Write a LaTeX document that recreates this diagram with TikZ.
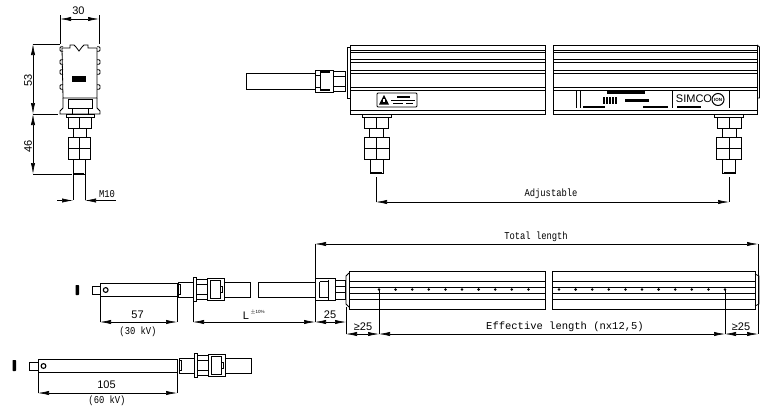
\documentclass[tikz,border=0pt]{standalone}
\usepackage{fontspec}
\setmainfont{Liberation Mono}
\newfontfamily\narrowfont[FakeStretch=.84]{Liberation Mono}
\newfontfamily\labelfont{Liberation Sans}
\usetikzlibrary{arrows.meta}
\tikzset{
  part/.style={draw=black,line width=.8pt},
  rib/.style={draw=black,line width=1pt},
  thin part/.style={draw=black,line width=.55pt},
  dim/.style={draw=black,line width=.6pt,{Latex[length=11pt,width=4.2pt]}-{Latex[length=11pt,width=4.2pt]}},
  dimright/.style={draw=black,line width=.6pt,-{Latex[length=11pt,width=4.2pt]}},
  dimleft/.style={draw=black,line width=.6pt,{Latex[length=11pt,width=4.2pt]}-},
  ext/.style={draw=black,line width=.6pt},
  lab/.style={font=\narrowfont\fontsize{10.5}{12}\selectfont,inner sep=0pt},
  widelab/.style={font=\fontsize{10.5}{12}\selectfont,inner sep=0pt},
  numlab/.style={font=\labelfont\fontsize{11}{12}\selectfont,inner sep=0pt},
  blob/.style={fill=black,draw=none},
  % threaded foot under the bar, origin at top centre
  foot/.pic={
    \draw[part] (-14.5,0) rectangle (14.5,3);
    \draw[part] (-12,3) rectangle (12,14);
    \draw[part] (-7,14) rectangle (7,23);
    \draw[part] (-12.5,23) rectangle (12.5,45);
    \draw[part] (-12.5,34) -- (12.5,34);
    \draw[thin part] (0,3) -- (0,14);
    \draw[thin part] (0,23) -- (0,45);
    \draw[part] (-6.5,45) -- (-6.5,59) -- (6.5,59) -- (6.5,45);
    \draw[line width=1.2pt] (-5.5,59) -- (5.5,59);
  },
  % plug of the lead, origin at centre of its left collar
  plug/.pic={
    \draw[part] (-15,-7.5) rectangle (0,7.5);
    \draw[thin part] (-13,-5) rectangle (-15,5);
    \draw[part] (0,-12) rectangle (3,12);
    \draw[part] (3,-10) rectangle (14,10);
    \draw[thin part] (3,-5) -- (14,-5);
    \draw[thin part] (3,5) -- (14,5);
    \draw[part] (14,-11) rectangle (31,11);
    \draw[line width=1pt] (17,-9) rectangle (27,9);
    \draw[thin part] (27,-3) rectangle (29,3);
  },
  % the same plug as it enters the bar, origin at cable side
  plugbar/.pic={
    \draw[part] (0,-11) rectangle (20,11);
    \draw[line width=1pt] (4,-8) -- (4,8);
    \draw[line width=1.6pt] (5,-8) -- (13,-8);
    \draw[line width=1.6pt] (5,8) -- (13,8);
    \draw[thin part] (13,-10) -- (13,10);
    \draw[part] (20,-9.5) rectangle (30,9.5);
    \draw[thin part] (20,-3) -- (30,-3);
    \draw[thin part] (20,3) -- (30,3);
  }
}
\begin{document}
\begin{tikzpicture}[x=1pt,y=-1pt]
\useasboundingbox (0,0) rectangle (770,410);

% end view
\draw[part] (62,48) -- (70,48) -- (70,45) -- (74,45) -- (76,47) -- (79,51) -- (82,47) -- (84,45) -- (88,45) -- (88,48) -- (97,48) -- (97,98) -- (63,98) -- cycle;
\foreach \y in {49,62,72,87} {
  \draw[part,rounded corners=1pt] (63,\y-2.2) -- (60,\y-2.2) -- (60,\y+2.2) -- (63,\y+2.2);
  \draw[part,rounded corners=1pt] (97,\y-2.2) -- (100,\y-2.2) -- (100,\y+2.2) -- (97,\y+2.2);
}
\fill[blob] (72,76) rectangle (86,81.5);
\draw[part] (63,98) -- (63,108) -- (60,111) -- (60,114) -- (100,114) -- (100,111) -- (97,108) -- (97,98);
\draw[part] (68,99) rectangle (92,108);
\draw[part] (72,108) rectangle (88,114);
\draw[part] (66,114) rectangle (94,117);
\draw[part] (68,117) rectangle (91,128);
\draw[thin part] (79.5,117) -- (79.5,128);
\draw[part] (73,128) rectangle (86,137);
\draw[part] (68,137) rectangle (90,159);
\draw[part] (68,148) -- (90,148);
\draw[thin part] (79.5,137) -- (79.5,159);
\draw[part] (73,159) rectangle (85,174);
\draw[line width=1.2pt] (74,173.5) -- (84,173.5);
\draw[part] (73,174) -- (73,200);
\draw[part] (85,174) -- (85,200);

\draw[ext] (60,15) -- (60,44);
\draw[ext] (99,15) -- (99,44);
\draw[dim] (60,19) -- (99,19);
\node[numlab] (width30) at (78.5,11) {30};
\draw[ext] (33,44) -- (60,44);
\draw[ext] (33,114) -- (58,114);
\draw[ext] (33,174) -- (72,174);
\draw[dim] (33,44) -- (33,114);
\draw[dim] (33,114) -- (33,174);
\node[numlab,rotate=90] (height53) at (28,80) {53};
\node[numlab,rotate=90] (height46) at (28,146) {46};
\draw[dimright] (57,200.5) -- (73,200.5);
\draw[dimleft] (85,200.5) -- (116,200.5);
\node[lab] (threadm10) at (107,194) {M10};

% bar, top view
\draw[part] (350,45) -- (545,45) -- (545,114) -- (350,114) -- cycle;
\draw[part] (553,45) -- (757,45) -- (757,114) -- (553,114) -- cycle;
\foreach \y in {50,52,59,62,70,73,87,90,110} {
  \draw[rib] (350,\y) -- (545,\y);
  \draw[rib] (553,\y) -- (757,\y);
}
\draw[part] (350,47) -- (347,47) -- (347,98) -- (350,98);
\draw[part] (757,45) -- (759.5,47) -- (759.5,98) -- (757,98);
\draw[part] (246,73) rectangle (315,89);
\draw[part] (315,70) rectangle (333,92);
\draw[line width=1.2pt] (320,72) -- (330,72);
\draw[line width=1.2pt] (320,90) -- (330,90);
\draw[thin part] (320,72) -- (320,90);
\draw[thin part] (315,75) -- (320,75);
\draw[thin part] (315,87) -- (320,87);
\draw[part] (333,71) rectangle (345,91);
\draw[thin part] (333,76) -- (345,76);
\draw[thin part] (333,86) -- (345,86);

% warning plate
\draw[part,rounded corners=1pt] (377,93) rectangle (417,107);
\fill[blob] (379,104.5) -- (384,95) -- (389,104.5) -- cycle;
\fill[white] (383.4,98.5) rectangle (384.6,102);
\fill[blob] (397,96) rectangle (410,97.5);
\fill[blob] (391,99.5) rectangle (415,101);
\fill[blob] (393,102.5) rectangle (403,104);
\fill[blob] (406,102.5) rectangle (413,104);

% type plate
\draw[part] (576,91) -- (576,108);
\draw[part] (580,91) -- (580,108);
\draw[part] (672,91) -- (672,108);
\draw[part] (729,91) -- (729,108);
\fill[blob] (607,91) rectangle (645,93.5);
\fill[blob] (583,106) rectangle (605,108);
\fill[blob] (643,106) rectangle (668,108);
\foreach \x in {603,606,609,612,615} {
  \fill[blob] (\x,97) rectangle (\x+1.6,104);
}
\fill[blob] (625,99) rectangle (649,102);
\node[font=\labelfont\fontsize{11}{12}\selectfont,inner sep=0pt] (brand) at (694,99) {SIMCO};
\fill[blob] (677,105.8) rectangle (701,108);
\draw[line width=1pt] (718,99.5) circle (6);
\node[font=\labelfont\bfseries\fontsize{4.5}{5}\selectfont,inner sep=0pt] (brandion) at (718,99.5) {ION};

\pic at (376.5,114) {foot};
\pic at (729,114) {foot};
\draw[ext] (376,177) -- (376,202);
\draw[ext] (729,177) -- (729,202);
\draw[dim] (376,202) -- (729,202);
\node[lab] (adjust) at (551,194) {Adjustable};

% bar, front view
\draw[part] (349,271) -- (545,271) -- (545,309) -- (349,309) -- cycle;
\draw[part] (552,271) -- (755,271) -- (755,309) -- (552,309) -- cycle;
\foreach \y in {281,287,293,299} {
  \draw[part] (349,\y) -- (545,\y);
  \draw[part] (552,\y) -- (755,\y);
}
\foreach \x in {379,395.6,412.2,428.8,445.4,462,478.6,495.2,511.8,528.4} {
  \fill[blob] (\x,289.5) circle (1.4);
}
\foreach \x in {559,575.6,592.2,608.8,625.4,642,658.6,675.2,691.8,708.4,725} {
  \fill[blob] (\x,289.5) circle (1.4);
}
\draw[part] (349,273) -- (346,276) -- (346,304) -- (349,307);
\draw[part] (755,274) -- (759,276) -- (759,304) -- (755,306);
\draw[line width=1.2pt] (758.5,281) -- (758.5,299);
\draw[part] (258,282) -- (315,282);
\draw[part] (258,297) -- (315,297);
\draw[part] (258,282) -- (258,297);
\pic at (315,289.5) {plugbar};

% leads
\fill[blob,rounded corners=.6pt] (75.5,285) rectangle (79,295);
\draw[part] (92,286) rectangle (100,294);
\draw[part] (100,283) rectangle (177,296);
\draw[line width=1.1pt] (105.7,290) circle (2.4);
\pic at (193,289.5) {plug};
\draw[part] (225,282) -- (250,282) -- (250,297) -- (225,297);

\fill[blob,rounded corners=.6pt] (12.5,360) rectangle (16,371);
\draw[part] (29,362) rectangle (38,370);
\draw[part] (38,359) rectangle (177,372);
\draw[line width=1.1pt] (43.5,366) circle (2.4);
\pic at (194,365.5) {plug};
\draw[part] (226,358) -- (251,358) -- (251,373) -- (226,373);

% dimensions, lower views
\draw[ext] (315,244) -- (315,322);
\draw[ext] (758,244) -- (758,334);
\draw[dim] (315,244) -- (758,244);
\node[lab] (totallen) at (536,237) {Total length};
\draw[ext] (100,296) -- (100,322);
\draw[ext] (177,296) -- (177,322);
\draw[dim] (100,322) -- (177,322);
\node[numlab] (len57) at (137.5,315) {57};
\node[lab] (kv30) at (138,332) {(30 kV)};
\draw[ext] (193,301) -- (193,322);
\draw[dim] (193,322) -- (315,322);
\node[numlab] (lenl) at (246,315.5) {L};
\node[font=\labelfont\fontsize{4.5}{5}\selectfont,inner sep=0pt] (tol) at (257.5,312.5) {$\pm$10\%};
\draw[dim] (315,322) -- (346,322);
\node[numlab] (len25) at (330,315) {25};
\draw[ext] (346,307) -- (346,334);
\draw[ext] (379,289.5) -- (379,334);
\draw[ext] (725,289.5) -- (725,334);
\draw[dim] (346,334) -- (379,334);
\draw[dim] (379,334) -- (725,334);
\draw[dim] (725,334) -- (758,334);
\node[numlab] (minleft) at (363,327) {≥25};
\node[numlab] (minright) at (741,327) {≥25};
\node[widelab] (efflen) at (565,327) {Effective length (nx12,5)};
\draw[ext] (38,372) -- (38,393);
\draw[ext] (177,372) -- (177,393);
\draw[dim] (38,393) -- (177,393);
\node[numlab] (len105) at (106.5,385) {105};
\node[lab] (kv60) at (107,401) {(60 kV)};
\end{tikzpicture}
\end{document}
